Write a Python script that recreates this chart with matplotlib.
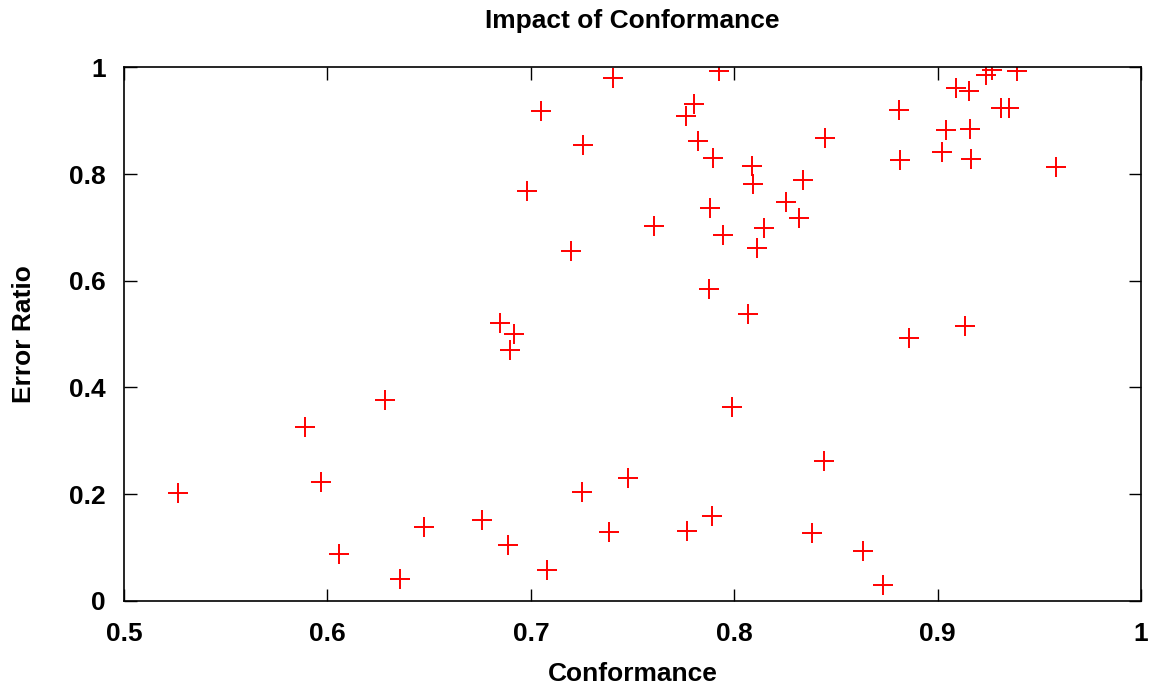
import matplotlib
matplotlib.use('Agg')
import matplotlib.pyplot as plt

# Conformance vs error ratio
conformance = [
    0.7405, 0.7925, 0.7051, 0.7802, 0.7762, 0.7254, 0.7823, 0.7895, 0.8085, 0.8090,
    0.6982, 0.8256, 0.8316, 0.7882, 0.7606, 0.8144, 0.7944, 0.8111, 0.7195, 0.7878,
    0.8070, 0.6846, 0.6915, 0.8339, 0.9265, 0.9239, 0.9388, 0.9092, 0.9156, 0.8810,
    0.9310, 0.9351, 0.8444, 0.9041, 0.9159, 0.9021, 0.9162, 0.8815, 0.9580, 0.9136,
    0.8859, 0.6898, 0.7987, 0.7480, 0.7251, 0.6759, 0.6888, 0.7080, 0.7382, 0.7767,
    0.7890, 0.8380, 0.8441, 0.8631, 0.8729, 0.5267, 0.5892, 0.6284, 0.5969, 0.6057,
    0.6356, 0.6475,
]
error_ratio = [
    0.9805, 0.9937, 0.9187, 0.9318, 0.9093, 0.8549, 0.8624, 0.8294, 0.8156, 0.7818,
    0.7676, 0.7475, 0.7175, 0.7357, 0.7031, 0.6982, 0.6857, 0.6607, 0.6562, 0.5850,
    0.5370, 0.5213, 0.5001, 0.7888, 0.9944, 0.9850, 0.9937, 0.9612, 0.9550, 0.9205,
    0.9237, 0.9237, 0.8680, 0.8819, 0.8843, 0.8407, 0.8281, 0.8268, 0.8125, 0.5151,
    0.4920, 0.4695, 0.3633, 0.2302, 0.2034, 0.1509, 0.1040, 0.0583, 0.1284, 0.1303,
    0.1584, 0.1271, 0.2626, 0.0928, 0.0290, 0.2015, 0.3258, 0.3758, 0.2221, 0.0872,
    0.0403, 0.1383,
]
xticks = [0.5, 0.6, 0.7, 0.8, 0.9, 1.0]
xtick_labels = ['0.5', '0.6', '0.7', '0.8', '0.9', '1']
yticks = [0, 0.2, 0.4, 0.6, 0.8, 1.0]
ytick_labels = ['0', '0.2', '0.4', '0.6', '0.8', '1']

plt.rcParams['font.family'] = ['Liberation Sans', 'DejaVu Sans']
plt.rcParams['font.weight'] = 'bold'

fig = plt.figure(figsize=(11.55, 6.89), dpi=100)
ax = fig.add_axes([0.1074, 0.128, 0.8805, 0.7743])

ax.plot(conformance, error_ratio, linestyle='none', marker='+',
        color='#ff0000', markersize=15, markeredgewidth=1.4)

ax.set_xlim(0.5, 1.0)
ax.set_ylim(0, 1.0)
ax.set_xticks(xticks)
ax.set_xticklabels(xtick_labels)
ax.set_yticks(yticks)
ax.set_yticklabels(ytick_labels)
ax.tick_params(direction='in', length=9, width=1, top=True, right=True,
               labelsize=19)
ax.tick_params(axis='x', pad=15)
ax.tick_params(axis='y', pad=13)
for s in ax.spines.values():
    s.set_linewidth(1.2)
    s.set_color('black')

ax.set_title('Impact of Conformance', fontsize=19, fontweight='bold', pad=28)
ax.set_xlabel('Conformance', fontsize=19, fontweight='bold', labelpad=12)
ax.set_ylabel('Error Ratio', fontsize=19, fontweight='bold', labelpad=24)

fig.savefig('out.png', dpi=100, facecolor='white')
plt.close(fig)
